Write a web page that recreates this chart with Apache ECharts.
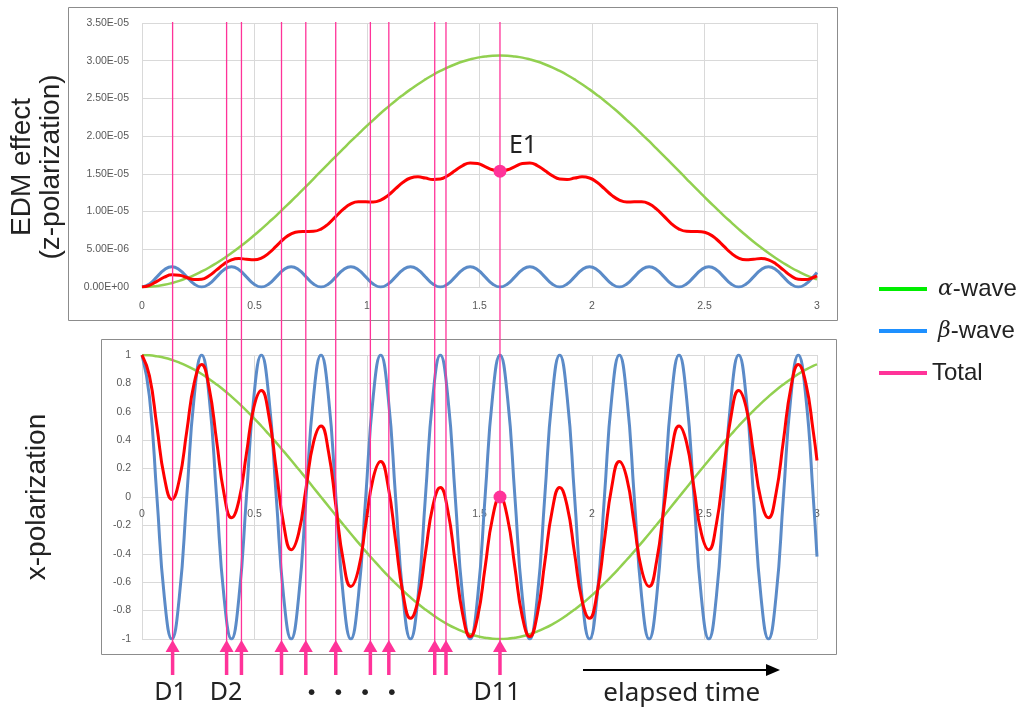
<!DOCTYPE html>
<html>
<head>
<meta charset="utf-8">
<script src="https://cdn.jsdelivr.net/npm/echarts@6/dist/echarts.min.js"></script>
<style>
html,body{margin:0;padding:0;background:#fff;}
#chart{width:1021px;height:709px;}
</style>
</head>
<body>
<div id="chart"></div>
<script>
// Sample times, eight samples per beta-wave cycle
const times = [
  0,0.0331,0.0663,0.0994,0.1326,0.1657,0.1989,0.2320,0.2652,0.2983,
  0.3315,0.3646,0.3978,0.4309,0.4641,0.4972,0.5304,0.5635,0.5967,0.6298,
  0.6630,0.6961,0.7293,0.7624,0.7956,0.8287,0.8618,0.8950,0.9281,0.9613,
  0.9944,1.0276,1.0607,1.0939,1.1270,1.1602,1.1933,1.2265,1.2596,1.2928,
  1.3259,1.3591,1.3922,1.4254,1.4585,1.4917,1.5248,1.5580,1.5911,1.6243,
  1.6574,1.6905,1.7237,1.7568,1.7900,1.8231,1.8563,1.8894,1.9226,1.9557,
  1.9889,2.0220,2.0552,2.0883,2.1215,2.1546,2.1878,2.2209,2.2541,2.2872,
  2.3204,2.3535,2.3867,2.4198,2.4530,2.4861,2.5192,2.5524,2.5855,2.6187,
  2.6518,2.6850,2.7181,2.7513,2.7844,2.8176,2.8507,2.8839,2.9170,2.9502,
  2.9833,3.0
];

// x-polarization
const xAlpha = [
  1.000,0.998,0.991,0.981,0.966,0.947,0.924,0.897,0.866,0.831,
  0.793,0.752,0.707,0.659,0.609,0.556,0.500,0.442,0.383,0.321,
  0.259,0.195,0.131,0.065,0.000,-0.065,-0.131,-0.195,-0.259,-0.321,
  -0.383,-0.442,-0.500,-0.556,-0.609,-0.659,-0.707,-0.752,-0.793,-0.831,
  -0.866,-0.897,-0.924,-0.947,-0.966,-0.981,-0.991,-0.998,-1.000,-0.998,
  -0.991,-0.981,-0.966,-0.947,-0.924,-0.897,-0.866,-0.831,-0.793,-0.752,
  -0.707,-0.659,-0.609,-0.556,-0.500,-0.442,-0.383,-0.321,-0.259,-0.195,
  -0.131,-0.065,0.000,0.065,0.131,0.195,0.259,0.321,0.383,0.442,
  0.500,0.556,0.609,0.659,0.707,0.752,0.793,0.831,0.866,0.897,
  0.924,0.934
];
const xBeta = [
  1,0.707,0,-0.707,-1,-0.707,0,0.707,
  1,0.707,0,-0.707,-1,-0.707,0,0.707,
  1,0.707,0,-0.707,-1,-0.707,0,0.707,
  1,0.707,0,-0.707,-1,-0.707,0,0.707,
  1,0.707,0,-0.707,-1,-0.707,0,0.707,
  1,0.707,0,-0.707,-1,-0.707,0,0.707,
  1,0.707,0,-0.707,-1,-0.707,0,0.707,
  1,0.707,0,-0.707,-1,-0.707,0,0.707,
  1,0.707,0,-0.707,-1,-0.707,0,0.707,
  1,0.707,0,-0.707,-1,-0.707,0,0.707,
  1,0.707,0,-0.707,-1,-0.707,0,0.707,
  1,0.707,0,-0.42
];
const xTotal = [
  1.000,0.853,0.496,0.137,-0.017,0.120,0.462,0.802,0.933,0.769,
  0.397,0.023,-0.147,-0.024,0.305,0.632,0.750,0.575,0.192,-0.193,
  -0.371,-0.256,0.066,0.386,0.500,0.321,-0.066,-0.451,-0.630,-0.514,
  -0.192,0.133,0.250,0.076,-0.305,-0.683,-0.854,-0.730,-0.397,-0.062,
  0.067,-0.095,-0.462,-0.827,-0.983,-0.844,-0.496,-0.146,0.000,-0.146,
  -0.496,-0.844,-0.983,-0.827,-0.462,-0.095,0.067,-0.062,-0.397,-0.730,
  -0.854,-0.683,-0.305,0.076,0.250,0.133,-0.192,-0.514,-0.630,-0.451,
  -0.066,0.321,0.500,0.386,0.066,-0.256,-0.371,-0.193,0.192,0.575,
  0.750,0.632,0.305,-0.024,-0.147,0.023,0.397,0.769,0.933,0.802,
  0.462,0.257
];

// EDM effect (z-polarization), listed in units of 1E-05
const EDM_UNIT = 1e-5;
const zAlpha = [
  0.000,0.003,0.014,0.029,0.052,0.081,0.117,0.158,0.206,0.259,
  0.318,0.381,0.450,0.523,0.600,0.682,0.768,0.857,0.947,1.042,
  1.137,1.236,1.334,1.435,1.535,1.635,1.736,1.834,1.933,2.028,
  2.123,2.213,2.303,2.388,2.470,2.547,2.620,2.689,2.752,2.811,
  2.864,2.912,2.953,2.989,3.018,3.041,3.056,3.067,3.070,3.067,
  3.056,3.041,3.018,2.989,2.953,2.912,2.864,2.811,2.752,2.689,
  2.620,2.547,2.470,2.388,2.303,2.213,2.123,2.028,1.933,1.834,
  1.736,1.635,1.535,1.435,1.334,1.236,1.137,1.042,0.947,0.857,
  0.768,0.682,0.600,0.523,0.450,0.381,0.318,0.259,0.206,0.158,
  0.117,0.101
];
const zBeta = [
  0,0.040,0.135,0.230,0.270,0.230,0.135,0.040,
  0,0.040,0.135,0.230,0.270,0.230,0.135,0.040,
  0,0.040,0.135,0.230,0.270,0.230,0.135,0.040,
  0,0.040,0.135,0.230,0.270,0.230,0.135,0.040,
  0,0.040,0.135,0.230,0.270,0.230,0.135,0.040,
  0,0.040,0.135,0.230,0.270,0.230,0.135,0.040,
  0,0.040,0.135,0.230,0.270,0.230,0.135,0.040,
  0,0.040,0.135,0.230,0.270,0.230,0.135,0.040,
  0,0.040,0.135,0.230,0.270,0.230,0.135,0.040,
  0,0.040,0.135,0.230,0.270,0.230,0.135,0.040,
  0,0.040,0.135,0.230,0.270,0.230,0.135,0.040,
  0,0.040,0.135,0.192
];
const zTotal = [
  0.000,0.022,0.075,0.130,0.161,0.156,0.126,0.099,0.103,0.150,
  0.227,0.306,0.360,0.377,0.368,0.361,0.384,0.449,0.541,0.636,
  0.704,0.733,0.735,0.738,0.768,0.838,0.936,1.032,1.102,1.129,
  1.129,1.127,1.152,1.214,1.303,1.389,1.445,1.460,1.444,1.426,
  1.432,1.476,1.544,1.610,1.644,1.636,1.596,1.554,1.535,1.554,
  1.596,1.636,1.644,1.610,1.544,1.476,1.432,1.426,1.444,1.460,
  1.445,1.389,1.303,1.214,1.152,1.127,1.129,1.129,1.102,1.032,
  0.936,0.838,0.768,0.738,0.735,0.733,0.704,0.636,0.541,0.449,
  0.384,0.361,0.368,0.377,0.360,0.306,0.227,0.150,0.103,0.099,
  0.126,0.147
];

// Detection times D1 ... D11 and the sample index of E1
const dTimes = [0.136,0.376,0.442,0.620,0.728,0.861,1.015,1.097,1.301,1.351,1.591];
const e1Index = 48;

const seriesNames = ['α-wave', 'β-wave', 'Total'];
const lineColors = ['#92d050', '#5b8bc8', '#ff0000'];
const legendColors = ['#00ee00', '#1e90ff', '#ff3399'];
const PINK = '#ff3399';
const LABEL_FONT = 'Noto Sans';

const pairs = (vals, scale) => times.map((t, i) => [t, vals[i] * (scale || 1)]);

function sciLabel(v) {
  return v.toExponential(2).toUpperCase().replace(/E([+-])(\d)$/, 'E$10$2');
}
function decLabel(v) {
  return String(Math.round(v * 10) / 10);
}

const tickFont = { color: '#595959', fontSize: 10.5, fontFamily: 'Liberation Sans' };
const gridLine = { show: true, lineStyle: { color: '#d9d9d9', width: 1 } };

const GRID_LEFT = 142, GRID_RIGHT = 204;
const X_GRID_TOP = 355, X_GRID_HEIGHT = 284;

const chart = echarts.init(document.getElementById('chart'), null, { renderer: 'canvas' });

function lineSeries(name, idx, data, width, color) {
  return {
    name: name, type: 'line', xAxisIndex: idx, yAxisIndex: idx,
    data: data, showSymbol: false, smooth: 0.5, animation: false,
    lineStyle: { color: color, width: width }, itemStyle: { color: color },
    z: 3
  };
}

const option = {
  animation: false,
  backgroundColor: '#fff',
  grid: [
    { left: GRID_LEFT, right: GRID_RIGHT, top: 23, height: 264 },
    { left: GRID_LEFT, right: GRID_RIGHT, top: X_GRID_TOP, height: X_GRID_HEIGHT },
    { left: GRID_LEFT, right: GRID_RIGHT, top: 22, height: 653 }
  ],
  xAxis: [
    { gridIndex: 0, type: 'value', min: 0, max: 3, interval: 0.5,
      axisLine: { show: true, lineStyle: { color: '#d9d9d9' } }, axisTick: { show: false },
      axisLabel: Object.assign({ margin: 14 }, tickFont), splitLine: gridLine },
    // the x-polarization time axis runs along the zero line, half way up the plot
    { gridIndex: 1, type: 'value', min: 0, max: 3, interval: 0.5,
      position: 'bottom', offset: -X_GRID_HEIGHT / 2,
      axisLine: { show: true, onZero: false, lineStyle: { color: '#d9d9d9' } }, axisTick: { show: false },
      axisLabel: Object.assign({ margin: 12 }, tickFont), splitLine: gridLine },
    { gridIndex: 2, type: 'value', min: 0, max: 3, show: false }
  ],
  yAxis: [
    { gridIndex: 0, type: 'value', min: 0, max: 3.5e-5, interval: 5e-6,
      axisLine: { show: false }, axisTick: { show: false },
      axisLabel: Object.assign({ margin: 13, formatter: sciLabel }, tickFont), splitLine: gridLine },
    { gridIndex: 1, type: 'value', min: -1, max: 1, interval: 0.2,
      axisLine: { show: false }, axisTick: { show: false },
      axisLabel: Object.assign({ margin: 11, formatter: decLabel }, tickFont), splitLine: gridLine },
    { gridIndex: 2, type: 'value', min: 0, max: 100, show: false }
  ],
  legend: {
    orient: 'vertical', left: 879, top: 274, padding: 0,
    icon: 'rect', itemWidth: 48, itemHeight: 4, itemGap: 12,
    data: seriesNames.map((n, i) => ({ name: n, itemStyle: { color: legendColors[i] } })),
    formatter: function (name) {
      if (name === 'α-wave') return '{g|α}{t|-wave}';
      if (name === 'β-wave') return '{g|β}{t|-wave}';
      return '{t|' + name + '}';
    },
    textStyle: {
      color: '#222', fontSize: 24, lineHeight: 30,
      rich: {
        g: { fontFamily: 'DejaVu Serif', fontStyle: 'italic', fontSize: 22, color: '#222', padding: [0, 0, 0, 6] },
        t: { fontFamily: 'Liberation Sans', fontSize: 24, color: '#222' }
      }
    }
  },
  series: [
    lineSeries(seriesNames[0], 0, pairs(zAlpha, EDM_UNIT), 2.5, lineColors[0]),
    lineSeries(seriesNames[1], 0, pairs(zBeta, EDM_UNIT), 3, lineColors[1]),
    lineSeries(seriesNames[2], 0, pairs(zTotal, EDM_UNIT), 3, lineColors[2]),
    lineSeries(seriesNames[0], 1, pairs(xAlpha), 2.5, lineColors[0]),
    lineSeries(seriesNames[1], 1, pairs(xBeta), 3, lineColors[1]),
    lineSeries(seriesNames[2], 1, pairs(xTotal), 3, lineColors[2]),
    {
      // D1 ... D11 markers across both panels
      type: 'custom', xAxisIndex: 2, yAxisIndex: 2, z: 8, silent: true,
      data: dTimes.map(t => [t, 0]),
      renderItem: function (params, api) {
        const t = api.value(0);
        const top = api.coord([t, 100]);
        const tip = api.coord([t, 5.36]);
        const base = api.coord([t, 3.52]);
        const end = api.coord([t, 0]);
        return {
          type: 'group',
          children: [
            { type: 'line', shape: { x1: top[0], y1: top[1], x2: tip[0], y2: tip[1] + 3 },
              style: { stroke: PINK, lineWidth: 1.3 } },
            { type: 'polygon', shape: { points: [[tip[0], tip[1]], [tip[0] - 7, base[1]], [tip[0] + 7, base[1]]] },
              style: { fill: PINK } },
            { type: 'line', shape: { x1: base[0], y1: base[1] - 1, x2: end[0], y2: end[1] },
              style: { stroke: PINK, lineWidth: 3.5 } }
          ]
        };
      }
    },
    {
      type: 'scatter', xAxisIndex: 0, yAxisIndex: 0, z: 10, silent: true,
      symbolSize: 13, itemStyle: { color: PINK, opacity: 1 },
      data: [[times[e1Index], zTotal[e1Index] * EDM_UNIT]],
      label: { show: true, formatter: 'E1', position: 'inside', offset: [23, -25],
        color: '#222', fontSize: 25, fontFamily: LABEL_FONT }
    },
    {
      type: 'scatter', xAxisIndex: 1, yAxisIndex: 1, z: 10, silent: true,
      symbolSize: 13, itemStyle: { color: PINK, opacity: 1 },
      data: [[times[e1Index], xTotal[e1Index]]]
    }
  ],
  graphic: [
    { type: 'rect', shape: { x: 68.5, y: 7.5, width: 769, height: 313 },
      style: { fill: null, stroke: '#8c8c8c', lineWidth: 1 }, z: 1 },
    { type: 'rect', shape: { x: 101.5, y: 339.5, width: 735, height: 315 },
      style: { fill: null, stroke: '#8c8c8c', lineWidth: 1 }, z: 1 },
    { type: 'text', x: 22, y: 167, rotation: Math.PI / 2,
      style: { text: 'EDM effect', fontSize: 28, fontFamily: 'Liberation Sans', fill: '#222',
        textAlign: 'center', textVerticalAlign: 'middle' } },
    { type: 'text', x: 51, y: 167, rotation: Math.PI / 2,
      style: { text: '(z-polarization)', fontSize: 28, fontFamily: 'Liberation Sans', fill: '#222',
        textAlign: 'center', textVerticalAlign: 'middle' } },
    { type: 'text', x: 37, y: 497, rotation: Math.PI / 2,
      style: { text: 'x-polarization', fontSize: 28, fontFamily: 'Liberation Sans', fill: '#222',
        textAlign: 'center', textVerticalAlign: 'middle' } },
    { type: 'text', x: 170.5, y: 693,
      style: { text: 'D1', fontSize: 25, fontFamily: LABEL_FONT, fill: '#222',
        textAlign: 'center', textVerticalAlign: 'middle' } },
    { type: 'text', x: 226, y: 693,
      style: { text: 'D2', fontSize: 25, fontFamily: LABEL_FONT, fill: '#222',
        textAlign: 'center', textVerticalAlign: 'middle' } },
    { type: 'text', x: 351.7, y: 692,
      style: { text: '・・・・', fontSize: 26.7, fontFamily: 'Noto Sans CJK JP', fill: '#222',
        textAlign: 'center', textVerticalAlign: 'middle' } },
    { type: 'text', x: 497, y: 693,
      style: { text: 'D11', fontSize: 25, fontFamily: LABEL_FONT, fill: '#222',
        textAlign: 'center', textVerticalAlign: 'middle' } },
    { type: 'text', x: 681.7, y: 694,
      style: { text: 'elapsed time', fontSize: 26, fontFamily: LABEL_FONT, fill: '#222',
        textAlign: 'center', textVerticalAlign: 'middle' } },
    { type: 'line', shape: { x1: 583, y1: 670, x2: 768, y2: 670 },
      style: { stroke: '#000', lineWidth: 2.2 } },
    { type: 'polygon', shape: { points: [[780, 670], [766, 664], [766, 676]] },
      style: { fill: '#000' } }
  ]
};

chart.setOption(option);
</script>
</body>
</html>
